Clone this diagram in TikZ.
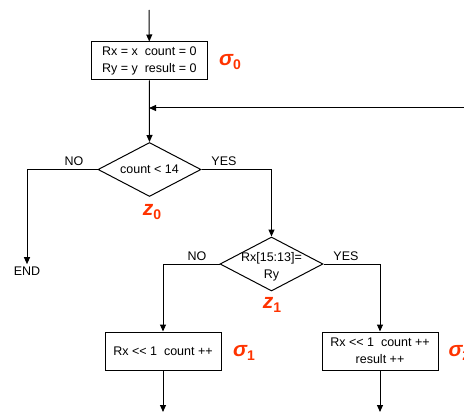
\documentclass[tikz,border=0pt]{standalone}
\usepackage{fontspec}
\setmainfont{Liberation Sans}
\usetikzlibrary{shapes.geometric,arrows.meta}
\definecolor{lab}{RGB}{255,51,0}
\newcommand{\shl}{<{}<}
\begin{document}
\begin{tikzpicture}[x=1pt,y=-1pt,
  font=\fontsize{12.5}{17}\selectfont,
  line width=1pt,
  >={Triangle[length=7pt,width=6pt]},
  box/.style={draw, rectangle, inner sep=0pt, align=center, minimum width=116pt, minimum height=38pt},
  dia/.style={draw, diamond, inner sep=0pt, minimum width=103pt, minimum height=54pt},
  txt/.style={inner sep=0pt, align=center},
  st/.style={text=lab, inner sep=0pt, font=\fontsize{21}{21}\selectfont\bfseries\itshape}]
\useasboundingbox (0,0) rectangle (464,412);
\clip (0,0) rectangle (464,412);
% nodes
\coordinate (in) at (149,10);
\node[box] (b0) at (149.3,61) {Rx = x\ \ count = 0\\Ry = y\ \ result = 0};
\node[st] (s0) at (230,62) {σ\raisebox{-0.4ex}{\fontsize{14}{14}\selectfont\upshape 0}};
\node[dia] (d0) at (149.5,169.5) {};
\node[txt] (t0) at (d0.center) {count < 14};
\node[txt] (no0) at (74,161) {NO};
\node[txt] (yes0) at (224,161) {YES};
\node[st] (z0) at (152,212) {z\raisebox{-0.4ex}{\fontsize{14}{14}\selectfont\upshape 0}};
\node[inner sep=2pt] (end) at (27,271) {END};
\node[dia] (d1) at (271.5,264) {};
\node[txt] (t1) at (271.5,267) {Rx[15:13]=\\Ry};
\node[txt] (no1) at (197,256) {NO};
\node[txt] (yes1) at (346,256) {YES};
\node[st] (z1) at (272,305) {z\raisebox{-0.4ex}{\fontsize{14}{14}\selectfont\upshape 1}};
\node[box] (b1) at (163,351) {Rx \shl{} 1\ \ count ++};
\node[st] (s1) at (244,353) {σ\raisebox{-0.4ex}{\fontsize{14}{14}\selectfont\upshape 1}};
\node[box] (b2) at (380,351) {Rx \shl{} 1\ \ count ++\\result ++};
\node[st, anchor=west] (s2) at (448,353) {σ\raisebox{-0.4ex}{\fontsize{14}{14}\selectfont\upshape 2}};
\coordinate (loopR) at (470,108);
\coordinate (j0) at (149,108);
\coordinate (o1) at (163,412);
\coordinate (o2) at (380,412);
% connectors
\draw[->] (in) -- (b0.north);
\draw[->] (b0.south) -- (d0.north);
\draw[->] (loopR) -- (j0);
\draw[->] (d0.west) -| (end.north);
\draw[->] (d0.east) -| (d1.north);
\draw[->] (d1.west) -| (b1.north);
\draw[->] (d1.east) -| (b2.north);
\draw[->] (b1.south) -- (o1);
\draw[->] (b2.south) -- (o2);
\end{tikzpicture}
\end{document}
